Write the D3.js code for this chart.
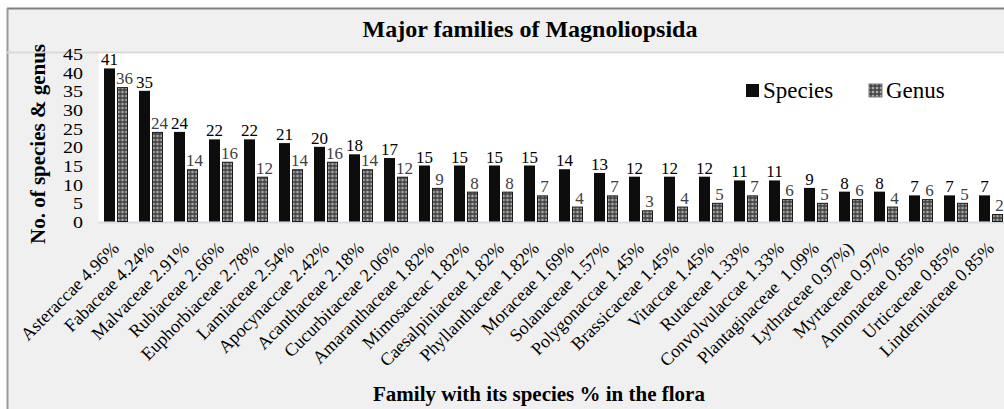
<!DOCTYPE html>
<html><head><meta charset="utf-8">
<script src="https://cdn.jsdelivr.net/npm/d3@7"></script>
<style>
html,body{margin:0;padding:0;background:#fff;}
svg{display:block;}
svg text{font-family:"Liberation Serif","Times New Roman",serif;}
</style></head>
<body><svg id="c" width="1004" height="409"></svg>
<script>
const categories = ["Asteraccae 4.96%","Fabaceae 4.24%","Malvaceae 2.91%","Rubiaceae 2.66%","Euphorbiaceae 2.78%","Lamiaceae 2.54%","Apocynaccae 2.42%","Acanthaceae 2.18%","Cucurbitaceae 2.06%","Amaranthaceae 1.82%","Mimosaceac 1.82%","Caesalpiniaceae 1.82%","Phyllanthaceae 1.82%","Moraceae 1.69%","Solanaceae 1.57%","Polygonaccae 1.45%","Brassicaceae 1.45%","Vitaccae 1.45%","Rutaceae 1.33%","Convolvulaccae 1.33%","Plantaginaceae  1.09%","Lythraceae 0.97%)","Myrtaceae 0.97%","Annonaceae 0.85%","Urticaceae 0.85%","Linderniaceae 0.85%"];
const species = [41,35,24,22,22,21,20,18,17,15,15,15,15,14,13,12,12,12,11,11,9,8,8,7,7,7];
const genus   = [36,24,14,16,12,14,16,14,12,9,8,8,7,4,7,3,4,5,7,6,5,6,4,6,5,2];
const seriesNames = ["Species","Genus"];
const yTicks = [0,5,10,15,20,25,30,35,40,45];
const title = "Major families of Magnoliopsida";
const yTitle = "No. of species & genus";
const xTitle = "Family with its species % in the flora";

const FONT = "Liberation Serif";
const svg = d3.select("#c");
const W = 1004, H = 409;
const plot = {left: 98.5, right: 1008.5, top: 53.5, bottom: 221.5};

const defs = svg.append("defs");
const pat = defs.append("pattern").attr("id","gpat").attr("patternUnits","userSpaceOnUse")
  .attr("width",4).attr("height",4);
pat.append("rect").attr("width",4).attr("height",4).attr("fill","#a8a8a8");
pat.append("path").attr("d","M2,0 L4,2 L2,4 L0,2 Z").attr("fill","#111");
pat.append("rect").attr("x",1.5).attr("y",1.5).attr("width",1).attr("height",1).attr("fill","#ddd");

svg.append("rect").attr("x",7).attr("y",8).attr("width",W-7).attr("height",H-8).attr("fill","#f0f0f0");
svg.append("line").attr("x1",7).attr("x2",W).attr("y1",8.5).attr("y2",8.5).attr("stroke","#808080").attr("stroke-width",2);
svg.append("line").attr("x1",7.5).attr("x2",7.5).attr("y1",8).attr("y2",H).attr("stroke","#9a9a9a").attr("stroke-width",2);
svg.append("line").attr("x1",7).attr("x2",W).attr("y1",52.5).attr("y2",52.5).attr("stroke","#d9d9d9").attr("stroke-width",2);
svg.append("rect").attr("x",plot.left).attr("y",plot.top).attr("width",plot.right-plot.left).attr("height",plot.bottom-plot.top+1).attr("fill","#ffffff");

const x = d3.scaleBand().domain(categories).range([plot.left, plot.right]).paddingInner(0).paddingOuter(0);
const step = x.step();
const xs = d3.scaleBand().domain(seriesNames).range([(step-24)/2, (step+24)/2]).paddingInner(2/13).paddingOuter(0);
const y = d3.scaleLinear().domain([0,45]).range([plot.bottom, plot.top]);

svg.append("line").attr("x1",plot.left).attr("x2",plot.right).attr("y1",plot.bottom+1).attr("y2",plot.bottom+1).attr("stroke","#d9dde3").attr("stroke-width",2);

const data = categories.map((c,i)=>({c, Species: species[i], Genus: genus[i]}));
const groups = svg.append("g").selectAll("g").data(data).join("g")
  .attr("transform", d=>`translate(${x(d.c)},0)`);

groups.append("rect").attr("x", xs("Species")).attr("width", xs.bandwidth())
  .attr("y", d=>y(d.Species)).attr("height", d=>y(0)-y(d.Species)).attr("fill","#0d0d0d");
groups.append("rect").attr("x", xs("Genus")+0.5).attr("width", xs.bandwidth()-1)
  .attr("y", d=>y(d.Genus)+0.5).attr("height", d=>Math.max(0,y(0)-y(d.Genus)-0.5)).attr("fill","url(#gpat)")
  .attr("stroke","#1a1a1a").attr("stroke-width",1);

groups.append("text").attr("x", xs("Species")+xs.bandwidth()/2).attr("y", d=>y(d.Species)-3)
  .attr("text-anchor","middle").attr("font-family",FONT).attr("font-size",17).attr("fill","#000").text(d=>d.Species);
groups.append("text").attr("x", xs("Genus")+xs.bandwidth()/2+2).attr("y", d=>y(d.Genus)-3)
  .attr("text-anchor","middle").attr("font-family",FONT).attr("font-size",17).attr("fill","#404040").text(d=>d.Genus);

const ya = d3.axisLeft(y).tickValues(yTicks).tickSize(0).tickPadding(0);
const yg = svg.append("g").attr("transform","translate(83,0)").call(ya);
yg.attr("font-family",FONT);
yg.select(".domain").remove();
yg.selectAll("text").attr("font-family",FONT).attr("font-size",17).attr("fill","#000")
  .attr("dy","0.36em")
  .attr("textLength", function(d){return String(d).length*10;}).attr("lengthAdjust","spacingAndGlyphs");

const xa = d3.axisBottom(x).tickSize(0).tickPadding(0);
const xg = svg.append("g").attr("transform",`translate(0,${plot.bottom})`).call(xa);
xg.attr("font-family",FONT);
xg.select(".domain").remove();
xg.selectAll("text").attr("font-family",FONT).attr("font-size",18).attr("fill","#000")
  .attr("text-anchor","end").attr("y",0).attr("dy",0)
  .attr("transform","translate(4,28) rotate(-45)")
  .style("white-space","pre");

svg.append("text").attr("x",530).attr("y",37).attr("text-anchor","middle").attr("font-family",FONT).attr("font-size",24)
  .attr("font-weight","bold").attr("fill","#000").text(title);
svg.append("text").attr("transform","translate(45,144) rotate(-90)").attr("text-anchor","middle").attr("font-family",FONT)
  .attr("font-size",21).attr("font-weight","bold").attr("fill","#000").text(yTitle);
svg.append("text").attr("x",539).attr("y",401).attr("text-anchor","middle").attr("font-family",FONT).attr("font-size",21)
  .attr("font-weight","bold").attr("fill","#000").text(xTitle);

const legX = [746, 869];
const lg = svg.append("g").selectAll("g").data(seriesNames).join("g")
  .attr("transform",(d,i)=>`translate(${legX[i]},84)`);
lg.append("rect").attr("width",13).attr("height",13)
  .attr("fill",(d,i)=>i===0?"#0d0d0d":"url(#gpat)").attr("stroke",(d,i)=>i===0?"none":"#777");
lg.append("text").attr("x",17).attr("y",13.5).attr("font-family",FONT).attr("font-size",23).attr("fill","#000").text(d=>d);
</script></body></html>
